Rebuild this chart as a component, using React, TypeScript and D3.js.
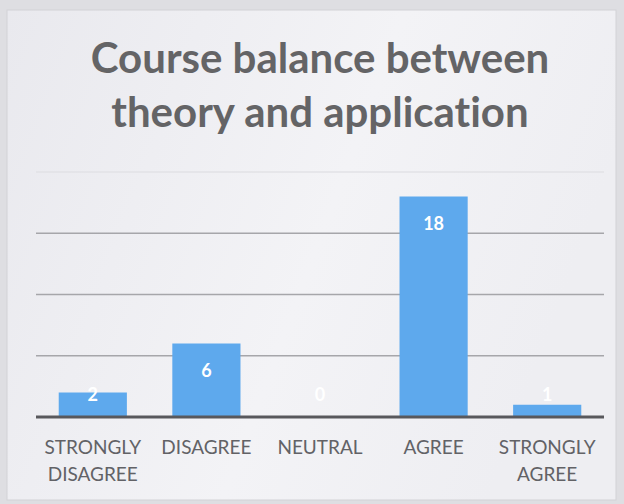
import React from "react";
import * as d3 from "d3";

const categories = ["STRONGLY DISAGREE", "DISAGREE", "NEUTRAL", "AGREE", "STRONGLY AGREE"];
const categoryLines = [["STRONGLY", "DISAGREE"], ["DISAGREE"], ["NEUTRAL"], ["AGREE"], ["STRONGLY", "AGREE"]];
const values = [2, 6, 0, 18, 1];
const yTicks = [0, 5, 10, 15, 20];
const titleLines = ["Course balance between", "theory and application"];

const W = 624;
const H = 504;
const margin = { top: 172, right: 20, bottom: 87, left: 36 };

export default function App() {
  const x = d3
    .scaleBand<string>()
    .domain(categories)
    .range([margin.left, W - margin.right])
    .paddingInner(0.4)
    .paddingOuter(0.2);
  const y = d3.scaleLinear().domain([0, 20]).range([H - margin.bottom, margin.top]);
  const y0 = y(0);
  const font = "Lato, Carlito, Calibri, 'Open Sans', sans-serif";
  const noLig = { fontVariantLigatures: "none" as const, fontFeatureSettings: "'liga' 0, 'clig' 0" };
  const plotCenter = (margin.left + W - margin.right) / 2;

  return (
    <div style={{ position: "absolute", left: 0, top: 0 }}>
      <svg width={W} height={H} style={{ display: "block" }}>
        <defs>
          <linearGradient id="bg" x1="0" y1="0" x2="1" y2="0.3">
            <stop offset="0" stopColor="#e9e9ee" />
            <stop offset="0.6" stopColor="#f3f3f6" />
            <stop offset="1" stopColor="#eeeef2" />
          </linearGradient>
        </defs>
        <rect x={0} y={0} width={W} height={H} fill="#dedee2" />
        <rect x={7} y={10} width={609} height={490} fill="url(#bg)" stroke="#d2d2d6" strokeWidth={1} />
        {titleLines.map((t, i) => (
          <text
            key={t}
            x={plotCenter}
            y={73 + i * 54}
            textAnchor="middle"
            fontFamily={font}
            fontWeight={700}
            fontSize={42}
            fill="#646466"
            style={noLig}
          >
            {t}
          </text>
        ))}
        {yTicks.slice(1).map((t) => (
          <line
            key={t}
            x1={margin.left}
            x2={W - margin.right}
            y1={y(t)}
            y2={y(t)}
            stroke={t === 20 ? "#e2e2e6" : "#a6a6aa"}
            strokeWidth={1.5}
          />
        ))}
        {categories.map((c, i) => (
          <rect
            key={c}
            x={x(c)}
            y={y(values[i])}
            width={x.bandwidth()}
            height={y0 - y(values[i])}
            fill="#5ea9ed"
          />
        ))}
        <line x1={margin.left} x2={W - margin.right} y1={y0} y2={y0} stroke="#58585c" strokeWidth={3} />
        {categories.map((c, i) => (
          <text
            key={c}
            x={(x(c) as number) + x.bandwidth() / 2}
            y={Math.min(y(values[i]) + 33, y0 - 16)}
            textAnchor="middle"
            fontFamily={font}
            fontWeight={700}
            fontSize={18}
            fill="#ffffff"
          >
            {values[i]}
          </text>
        ))}
        {categories.map((c, i) => (
          <text
            key={c}
            x={(x(c) as number) + x.bandwidth() / 2}
            y={y0 + 37}
            textAnchor="middle"
            fontFamily={font}
            fontSize={19}
            fill="#626266"
          >
            {categoryLines[i].map((l, j) => (
              <tspan key={j} x={(x(c) as number) + x.bandwidth() / 2} dy={j === 0 ? 0 : 26.5}>
                {l}
              </tspan>
            ))}
          </text>
        ))}
      </svg>
    </div>
  );
}
